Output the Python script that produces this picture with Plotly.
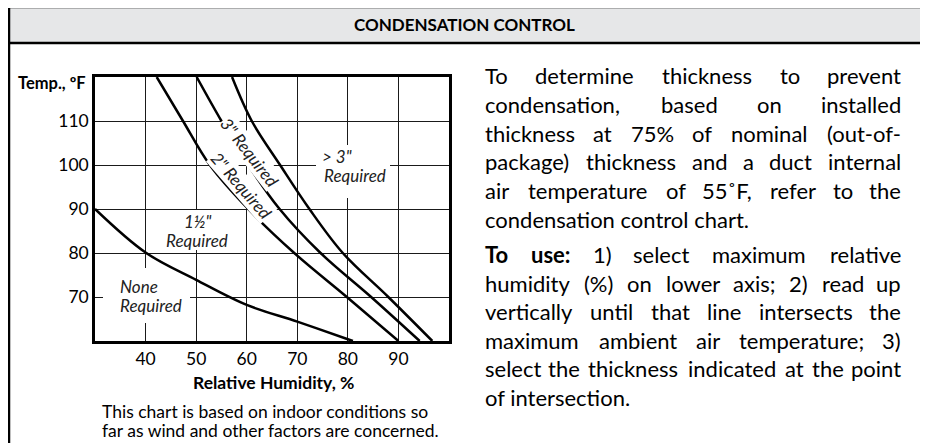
import plotly.graph_objects as go

# ---------------- data ----------------
x_ticks = [40, 50, 60, 70, 80, 90]
y_ticks = [70, 80, 90, 100, 110]

# boundary between "None" and "1 1/2 in" (relative humidity %, temperature °F)
none_rh = [30, 40, 50, 60, 70, 80, 81]
none_t = [90, 80.1, 73.9, 68.2, 64.4, 60.4, 60]

# remaining boundaries, read at each temperature grid line
temps = [120, 110, 100, 90, 80, 70, 60]
half_rh = [42.2, 47.4, 52.7, 60.3, 69.4, 79.8, 90.0]    # 1 1/2" | 2"
two_rh = [50.1, 55.0, 60.3, 66.5, 74.6, 84.6, 94.2]     # 2" | 3"
three_rh = [57.1, 61.0, 66.6, 72.4, 79.0, 88.0, 96.7]   # 3" | > 3"

curves = [(none_rh, none_t), (half_rh, temps), (two_rh, temps), (three_rh, temps)]

title_text = "CONDENSATION CONTROL"
y_title = "Temp., ºF"
x_title = "Relative Humidity, %"
foot_lines = ["This chart is based on indoor conditions so",
              "far as wind and other factors are concerned."]

para1 = [
    "To determine thickness to prevent",
    "condensation, based on installed",
    "thickness at 75% of nominal (out-of-",
    "package) thickness and a duct internal",
    "air temperature of 55˚F, refer to the",
    "condensation control chart.",
]
para2 = [
    "To use: 1) select maximum relative",
    "humidity (%) on lower axis; 2) read up",
    "vertically until that line intersects the",
    "maximum ambient air temperature; 3)",
    "select the thickness indicated at the point",
    "of intersection.",
]
para2_bold_words = 2  # "To use:"

# ---------------- layout helpers ----------------
OFF = 8                    # page body margin
W, H = 920, 435
L, R, T, B = 95, 449, 77, 341   # plot box in reference pixels


def px(x):
    return (x - L) / (R - L)


def py(y):
    return (B - y) / (B - T)


def rh_of(x):
    return 30 + (x - L) / (R - L) * 70


def t_of(y):
    return 60 + (B - y) / (B - T) * 60


FONT = "Lato"

# approximate Lato advance widths (em)
CW = {' ': .19, 'a': .51, 'b': .56, 'c': .47, 'd': .56, 'e': .52, 'f': .32, 'g': .50, 'h': .56, 'i': .24,
      'j': .24, 'k': .50, 'l': .24, 'm': .84, 'n': .56, 'o': .56, 'p': .56, 'q': .56, 'r': .36, 's': .42,
      't': .35, 'u': .56, 'v': .51, 'w': .77, 'x': .49, 'y': .51, 'z': .45, ',': .22, '.': .22, ';': .24,
      ':': .24, '(': .30, ')': .30, '-': .34, '%': .77, '˚': .30, 'F': .51, 'T': .53}


def word_w(w, size, bold=False):
    s = sum(CW.get(c, .58) for c in w) * size * 1.035
    return s * (1.06 if bold else 1.0)


fig = go.Figure()
for rh, t in curves:
    fig.add_trace(go.Scatter(x=rh, y=t, mode="lines",
                             line=dict(color="black", width=2.5, shape="spline", smoothing=1.0),
                             hoverinfo="skip", showlegend=False))

shapes = []
shapes.append(dict(type="rect", xref="paper", yref="paper", x0=px(9), x1=px(923), y0=py(43), y1=py(7),
                   fillcolor="#e6e7e8", line=dict(color="black", width=2.5), layer="below"))
for xb in (9, 923):
    shapes.append(dict(type="line", xref="paper", yref="paper", x0=px(xb), x1=px(xb), y0=py(43), y1=py(460),
                       line=dict(color="black", width=2.5)))
# white label boxes interrupting the grid
for (x0, x1, y0, y1) in [(103, 190, 268, 323), (160, 235, 210, 250), (316, 390, 145, 198)]:
    shapes.append(dict(type="rect", xref="x", yref="y", x0=rh_of(x0), x1=rh_of(x1), y0=t_of(y1), y1=t_of(y0),
                       fillcolor="white", line=dict(width=0), layer="between"))

ann = []


def add_text(text, x, y, size, xanchor="center", bold=False, italic=False, xref="paper", color="black", **kw):
    if bold:
        text = "<b>" + text + "</b>"
    if italic:
        text = "<i>" + text + "</i>"
    if xref == "paper":
        xx, yy = px(x), py(y)
    else:
        xx, yy = x, y
    ann.append(dict(text=text, x=xx, y=yy, xref=xref, yref="paper" if xref == "paper" else "y",
                    xanchor=xanchor, yanchor="middle", showarrow=False,
                    font=dict(family=FONT, size=size, color=color), **kw))


add_text(title_text, 464, 25, 17, bold=True)
add_text(y_title, 88, 83, 16.5, xanchor="right", bold=True)
add_text(x_title, 273, 382, 17.5, bold=True)
for i, line in enumerate(foot_lines):
    add_text(line, 100, 411 + 19.5 * i, 17.5, xanchor="left")

# justified paragraphs
BODY = 22
X0, X1 = 483, 903


def add_para(lines, y0, dy, bold_n=0):
    for i, line in enumerate(lines):
        y = y0 + dy * i
        words = line.split(" ")
        bold = [j < bold_n and i == 0 for j in range(len(words))]
        if i == len(lines) - 1:
            add_text(line, X0, y, BODY, xanchor="left")
            continue
        ws = [word_w(w, BODY, b) for w, b in zip(words, bold)]
        gap = (X1 - X0 - sum(ws)) / (len(words) - 1)
        left = X0
        for j, (w, wd, b) in enumerate(zip(words, ws, bold)):
            if j == 0:
                add_text(w, X0, y, BODY, xanchor="left", bold=b)
            elif j == len(words) - 1:
                add_text(w, X1, y, BODY, xanchor="right", bold=b)
            else:
                add_text(w, left + wd / 2, y, BODY, xanchor="center", bold=b)
            left += wd + gap


add_para(para1, 75.5, 28.8)
add_para(para2, 254.5, 28.5, bold_n=para2_bold_words)

# labels inside the chart (data coordinates)
LS = 17
lab_col = "#222"
add_text("None", rh_of(118), t_of(286.7), LS, xanchor="left", italic=True, xref="x", color=lab_col)
add_text("Required", rh_of(118), t_of(305), LS, xanchor="left", italic=True, xref="x", color=lab_col)
add_text("1½\"", rh_of(197.5), t_of(221.7), LS, italic=True, xref="x", color=lab_col)
add_text("Required", rh_of(196.5), t_of(240), LS, italic=True, xref="x", color=lab_col)
add_text("&gt; 3\"", rh_of(320), t_of(156.7), LS, xanchor="left", italic=True, xref="x", color=lab_col)
add_text("Required", rh_of(321.7), t_of(175), LS, xanchor="left", italic=True, xref="x", color=lab_col)
add_text("3\" Required", rh_of(250), t_of(152), LS, italic=True, xref="x", color=lab_col,
         textangle=52, bgcolor="white", borderpad=0)
add_text("2\" Required", rh_of(241.7), t_of(185), LS, italic=True, xref="x", color=lab_col,
         textangle=49, bgcolor="white", borderpad=0)

fig.update_layout(
    width=W, height=H,
    margin=dict(l=L - OFF, r=W - (R - OFF), t=T - OFF, b=H - (B - OFF), pad=0),
    paper_bgcolor="white", plot_bgcolor="white",
    shapes=shapes, annotations=ann, showlegend=False,
    font=dict(family=FONT, color="black"),
)
axis_style = dict(ticks="", showgrid=True, gridcolor="#1a1a1a", gridwidth=1.3, showline=True, linecolor="black",
                  linewidth=2.5, mirror=True, zeroline=False, tickfont=dict(family=FONT, size=17.5, color="black"))
fig.update_xaxes(range=[30, 100], tickvals=x_ticks, **axis_style)
fig.update_yaxes(range=[60, 120], tickvals=y_ticks, **axis_style)

fig.write_html("out.html")
